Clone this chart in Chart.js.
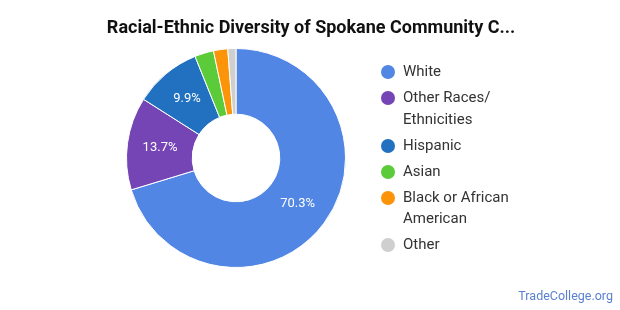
<!DOCTYPE html>
<html>
<head>
<meta charset="utf-8">
<script src="https://cdn.jsdelivr.net/npm/chart.js@4"></script>
<style>
    body { margin: 0; background: #fff; font-family: Roboto, sans-serif; }
    #wrap { position: relative; width: 620px; height: 310px; overflow: hidden; }
    #myChart { position: absolute; left: 0; top: 0; }
    #titulo { position: absolute; left: 0; top: 16px; width: 622px; text-align: center;
              font-weight: bold; font-size: 18px; color: #111; }
    #leyenda { position: absolute; left: 381px; top: 61px; margin: 0; padding: 0; list-style: none; }
    #leyenda li { position: relative; padding-left: 22px; font-size: 15px; line-height: 21.5px;
                  color: #333; margin-bottom: 4.5px; }
    #leyenda li span { position: absolute; left: 0; top: 4px; width: 14px; height: 14px; border-radius: 50%; }
    #marca { position: absolute; right: 7px; top: 288px; font-size: 12.5px; color: #5b80d0; }
</style>
</head>
<body>
<div id="wrap">
    <canvas id="myChart" width="620" height="310"></canvas>
    <div id="titulo">Racial-Ethnic Diversity of Spokane Community C...</div>
    <ul id="leyenda"></ul>
    <div id="marca">TradeCollege.org</div>
</div>
<script>
const categorias = ['White', 'Other Races/\nEthnicities', 'Hispanic', 'Asian', 'Black or African\nAmerican', 'Other'];
const porcentajes = [70.3, 13.7, 9.9, 2.8, 2.1, 1.2];
const colores = ['#5186e4', '#7545b5', '#2171c0', '#5bcb3a', '#fb9409', '#cfcfcf'];

// etiquetas blancas dentro de las porciones grandes
const etiquetasPorcion = {
    id: 'etiquetasPorcion',
    afterDatasetsDraw(chart) {
        const ctx = chart.ctx;
        const meta = chart.getDatasetMeta(0);
        ctx.save();
        ctx.fillStyle = '#fff';
        ctx.font = '13px Roboto';
        ctx.textAlign = 'center';
        ctx.textBaseline = 'middle';
        meta.data.forEach(function (arco, i) {
            if (porcentajes[i] < 5) return;
            const p = arco.tooltipPosition();
            ctx.fillText(porcentajes[i].toFixed(1) + '%', p.x, p.y);
        });
        ctx.restore();
    }
};

function construirLeyenda() {
    let res = '';
    for (let i = 0; i < categorias.length; i++) {
        res += `<li><span style="background:${colores[i]}"></span>${categorias[i].replace('\n', '<br>')}</li>`;
    }
    document.getElementById('leyenda').innerHTML = res;
}

function construirGrafica() {
    const ctx = document.getElementById('myChart').getContext('2d');
    new Chart(ctx, {
        type: 'doughnut',
        data: {
            labels: categorias,
            datasets: [{
                data: porcentajes,
                backgroundColor: colores,
                borderColor: '#fff',
                borderWidth: 1
            }]
        },
        options: {
            responsive: false,
            animation: false,
            cutout: '40%',
            layout: { padding: { left: 126, right: 274, top: 48, bottom: 42 } },
            plugins: {
                legend: { display: false },
                tooltip: { enabled: false }
            }
        },
        plugins: [etiquetasPorcion]
    });
}

construirLeyenda();
construirGrafica();
</script>
</body>
</html>
